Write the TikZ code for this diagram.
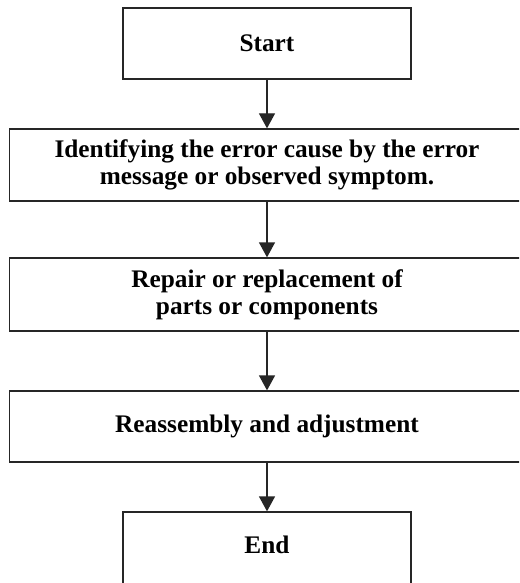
\documentclass[tikz,border=0pt]{standalone}
\usepackage{fontspec}
\setmainfont{Liberation Serif}
\usetikzlibrary{arrows.meta}

\tikzset{
  stepbox/.style={draw=black!85, line width=1.3pt, align=center,
    font=\fontsize{25.3}{27}\selectfont\bfseries, inner sep=0pt},
  narrowbox/.style={stepbox, minimum width=288pt, minimum height=71pt},
  widebox/.style={stepbox, minimum width=515pt, minimum height=72pt},
  flow/.style={draw=black!85, line width=1.3pt, -{Triangle[length=15pt,width=16pt]}}
}

\begin{document}
\begin{tikzpicture}[x=1pt,y=1pt]
	
	% Define the frame
	\useasboundingbox (0,0) rectangle (519,-583);
	\fill[white] (0,0) rectangle (519,-583);
	\clip (0,0) rectangle (519,-583);
	
	% Draw the boxes
	\node[narrowbox] (start) at (267,-43.5) {Start};
	\node[widebox] (ident) at (267,-165) {Identifying the error cause by the error\\message or observed symptom.};
	\node[widebox, minimum height=73pt] (repair) at (267,-294.5) {Repair or replacement of\\parts or components};
	\node[widebox, minimum height=71pt] (reasm) at (267,-426.5) {Reassembly and adjustment};
	\node[narrowbox, minimum height=76pt, text depth=10pt] (endbox) at (267,-550) {End};
	
	% Connect the boxes
	\draw[flow] (start) -- (ident);
	\draw[flow] (ident) -- (repair);
	\draw[flow] (repair) -- (reasm);
	\draw[flow] (reasm) -- (endbox);
	
\end{tikzpicture}
\end{document}
